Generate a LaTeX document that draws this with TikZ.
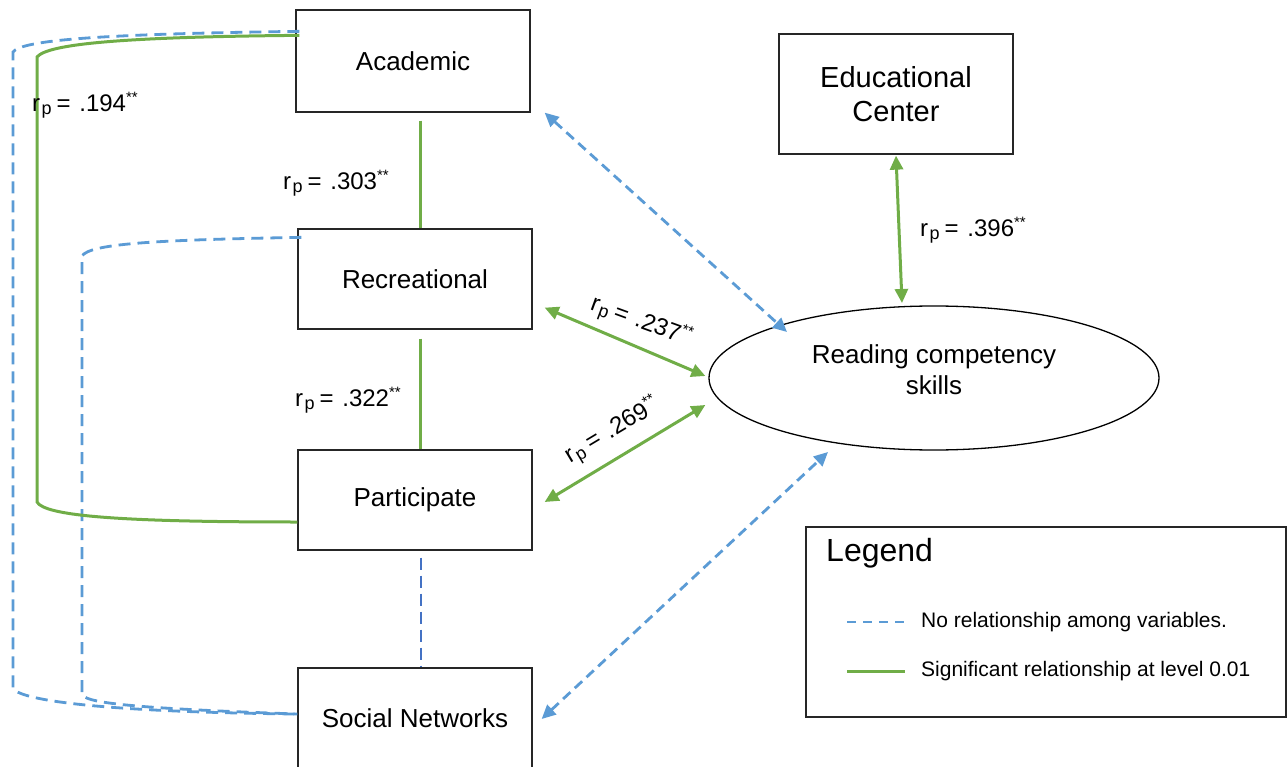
\documentclass[tikz,border=0pt]{standalone}
\usepackage{fontspec}
\setmainfont{Liberation Sans}
\usetikzlibrary{arrows.meta,calc,shapes.geometric}
\definecolor{cblue}{HTML}{5B9BD5}
\definecolor{cgreen}{HTML}{70AD47}
\definecolor{cdblue}{HTML}{4472C4}
\newcommand{\rpval}[1]{r\hspace{1.5pt}\raisebox{-3pt}{\fontsize{18}{18}\selectfont p}\hspace{5pt}=\hspace{2pt} .#1\raisebox{9pt}{\fontsize{15}{15}\selectfont **}}
\begin{document}
\begin{tikzpicture}[x=1pt,y=-1pt,
  box/.style={draw=black!85,line width=1.3pt,rectangle,minimum width=234pt,minimum height=100pt,inner sep=0pt,font=\fontsize{26}{30}\selectfont},
  sig/.style={draw=cgreen,line width=3pt},
  nosig/.style={draw=cblue,line width=2.8pt,dash pattern=on 12pt off 7pt},
  nosiga/.style={draw=cblue,line width=2.8pt,dash pattern=on 10pt off 6pt},
  dbl/.style={{Triangle[length=14pt,width=13pt]}-{Triangle[length=14pt,width=13pt]}},
  lab/.style={font=\fontsize{24}{28}\selectfont,inner sep=0pt},
  legtxt/.style={font=\fontsize{21}{25}\selectfont,inner sep=0pt,anchor=west}]
\useasboundingbox (0,0) rectangle (1287,767);
\clip (0,0) rectangle (1287,767);
% boxes
\node[box,minimum height=102pt] (acad) at (413,61) {Academic};
\node[box] (rec) at (415,279) {Recreational};
\node[box] (part) at (415,500) {Participate};
\node[box] (soc) at (415,718) {Social Networks};
\node[box,minimum height=120pt,align=center,font=\fontsize{29}{34}\selectfont] (edu) at (896,94) {Educational\\Center};
\node[ellipse,draw,line width=1.3pt,minimum width=450pt,minimum height=144pt,inner sep=0pt] (ell) at (934,378) {};
\node[align=center,font=\fontsize{26}{31}\selectfont,inner sep=0pt] (ellt) at (934,370) {Reading competency\\skills};
% vertical links
\draw[sig] ($(acad.south)+(7,8)$) -- ($(rec.north)+(5,0)$);
\draw[sig] ($(rec.south)+(5,9)$) -- ($(part.north)+(5,0)$);
\draw[draw=cdblue,line width=2.8pt,dash pattern=on 12pt off 6pt] ($(part.south)+(6,7)$) -- ($(soc.north)+(6,0)$);
% side curves
\draw[nosig] ($(acad.north west)+(4,22)$) .. controls (100,34) and (22,40) .. (13,52) -- (13,688) .. controls (18,700) and (100,712) .. ($(soc.west)+(0,-4)$);
\draw[nosig] ($(rec.north west)+(4,9)$) .. controls (150,240) and (90,244) .. (82,256) -- (82,694) .. controls (84,702) and (120,708) .. ($(soc.west)+(0,-4)$);
\draw[sig] ($(acad.north west)+(4,26)$) .. controls (120,37) and (48,44) .. (37,57) -- (37,502) .. controls (45,516) and (120,522) .. ($(part.west)+(0,22)$);
% arrows to ellipse
\draw[sig,dbl] ($(rec.south east)+(12,-22)$) -- ($(ell.west)+(-3,-2)$);
\draw[sig,dbl] ($(part.east)+(12,2)$) -- ($(ell.west)+(-3,27)$);
\draw[sig,dbl] ($(edu.south)+(0,1)$) -- ($(ell.center)+(-32,-75)$);
\draw[nosiga,dbl] ($(acad.south east)+(14,0)$) -- ($(ell.center)+(-147,-46)$);
\draw[nosiga,dbl] ($(soc.east)+(9,1)$) -- ($(ell.center)+(-106,74)$);
% labels
\node[lab,anchor=west] (l194) at (32,105) {\rpval{194}};
\node[lab,anchor=west] (l303) at (283,183) {\rpval{303}};
\node[lab,anchor=west] (l322) at (295,400) {\rpval{322}};
\node[lab,anchor=west] (l396) at (920,230) {\rpval{396}};
\node[lab,rotate=-20] (l237) at (641,322) {\rpval{237}};
\node[lab,rotate=31] (l269) at (612,431) {\rpval{269}};
% legend
\node[draw=black!85,line width=1.3pt,minimum width=480pt,minimum height=190pt,inner sep=0pt] (leg) at (1046,622) {};
\node[anchor=west,font=\fontsize{32}{36}\selectfont,inner sep=0pt] (legt) at (826,553) {Legend};
\coordinate (l1a) at (847,622);
\coordinate (l1b) at (905,622);
\coordinate (l2a) at (847,671);
\coordinate (l2b) at (905,671);
\draw[draw=cblue,line width=2.6pt,dash pattern=on 9pt off 7pt] (l1a) -- (l1b);
\draw[sig] (l2a) -- (l2b);
\node[legtxt] (l1t) at (921,622) {No relationship among variables.};
\node[legtxt] (l2t) at (921,671) {Significant relationship at level 0.01};
\end{tikzpicture}
\end{document}
